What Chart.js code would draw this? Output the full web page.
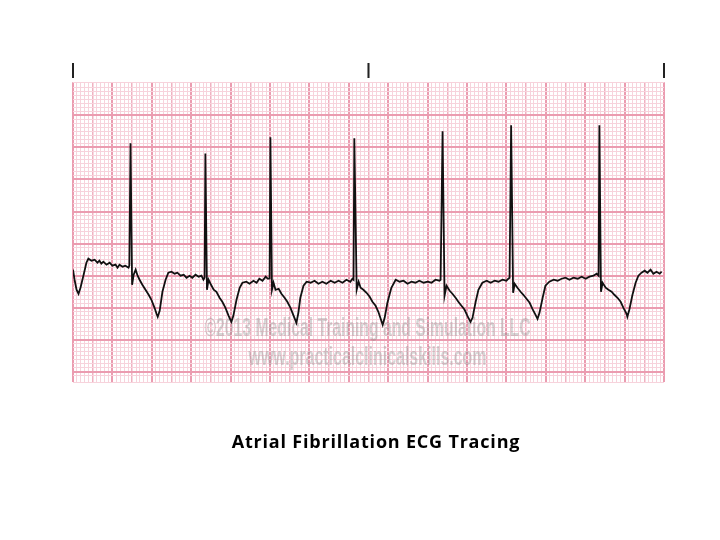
<!DOCTYPE html>
<html lang="en">
<head>
  <meta charset="UTF-8">
  <title>Atrial Fibrillation ECG Tracing</title>
  <script src="https://cdn.jsdelivr.net/npm/chart.js"></script>
  <style>
    body {
      margin: 0;
      background: #fff;
    }
    .wrap {
      position: relative;
      width: 720px;
      height: 540px;
    }
    .caption {
      position: absolute;
      left: 0;
      width: 752px;
      top: 431px;
      text-align: center;
      font-family: 'Open Sans', Lato, sans-serif;
      font-weight: bold;
      font-size: 18px;
      letter-spacing: 0.8px;
      line-height: 20px;
      color: #000;
    }
  </style>
</head>
<body>

<div class="wrap">
  <canvas id="ecgChart" width="720" height="540"></canvas>
  <div class="caption">Atrial Fibrillation ECG Tracing</div>
</div>

<script>
  // Data (paper units: 1 small box = 1 mm, 25 mm/s, 10 mm/mV)
  const traceX = [
    0, 0.4, 0.9, 1.4, 1.9, 2.7, 3.4, 3.9, 4.7, 5.5, 6.2, 6.7, 7.2, 7.7, 8.5, 9.3, 10.0, 10.8, 11.3, 11.8, 12.6, 13.3, 14.1,
    14.3, 14.6, 15.0, 15.4, 15.9, 16.4, 16.9, 17.6, 18.4, 19.2, 19.9, 20.7, 21.2, 21.5, 22.0, 22.7, 23.5, 24.2,
    25.0, 25.8, 26.5, 27.3, 28.1, 28.8, 29.6, 30.3, 31.1, 31.9, 32.6, 33.1,
    33.4, 33.6, 34.0, 34.4, 34.9, 35.7, 36.4, 37.2, 37.9, 38.7, 39.5, 40.2, 40.7, 41.5, 42.3, 43.0,
    44.0, 44.8, 45.8, 46.6, 47.3, 48.1, 48.9, 49.4,
    49.9, 50.1, 50.5, 50.9, 51.4, 52.2, 52.9, 53.7, 54.4, 55.2, 56.0, 56.7, 57.2, 57.7, 58.5, 59.3,
    60.3, 61.3, 62.3, 63.3, 64.3, 65.4, 66.4, 67.4, 68.4, 69.4, 70.4, 70.9,
    71.2, 71.4, 72.0, 72.5, 73.0, 73.7, 74.5, 75.3, 76.0, 76.8, 77.5, 78.0, 78.6, 79.1, 79.8, 80.8, 81.9,
    82.9, 83.9, 84.9, 85.9, 86.9, 87.9, 89.0, 90.0, 91.0, 92.0, 93.0,
    93.3, 93.8, 94.3, 94.8, 95.6, 96.3, 97.1, 97.8, 98.6, 99.4, 100.1, 100.9, 101.4, 102.2, 102.9, 103.9,
    105.0, 106.0, 107.0, 108.0, 109.0, 110.0, 110.5,
    110.8, 111.2, 111.7, 112.1, 112.8, 113.6, 114.3, 115.1, 115.9, 116.6, 117.4, 117.9, 118.4, 119.2, 119.9, 120.9,
    122.0, 123.0, 124.0, 125.0, 126.0, 127.0, 128.1, 129.1, 130.1, 131.1, 132.1, 132.9,
    133.4, 133.6, 134.0, 134.4, 135.2, 135.9, 136.7, 137.4, 138.2, 139.0, 139.7, 140.5, 140.7, 141.2, 142.0, 142.8,
    143.5, 144.3, 145.1, 145.8, 146.6, 147.3, 148.1, 148.9, 149.4
  ];
  const traceY = [
    25.5, 23, 20.5, 19.5, 21, 24.25, 27.25, 28.25, 27.75, 28, 27.25, 27.75, 27, 27.5, 26.75, 27.25, 26.5, 26.75, 26, 26.75, 26.25, 26.5, 26,
    26.5, 57, 21.75, 24.25, 25.5, 24, 23, 21.75, 20.5, 19.25, 18, 16, 14.5, 13.75, 15.25, 20, 23, 24.75,
    25, 24.5, 24.75, 24, 24.25, 23.5, 24, 23.5, 24.25, 23.75, 24, 23,
    23.5, 54.5, 20.5, 23, 22, 20.5, 20, 18.5, 17.5, 16, 14, 12.5, 14, 18, 21, 22.25,
    22.5, 22, 22.75, 22.25, 23.25, 22.75, 23.75, 23.25,
    23.25, 58.5, 20.5, 22.25, 20.5, 20.75, 19.5, 18.5, 17.5, 16, 14, 12.25, 14.75, 18.5, 21.5, 22.5,
    22.25, 22.75, 22, 22.5, 22, 22.75, 22.25, 22.75, 22.25, 23, 22.5, 23.25,
    23, 58.25, 20.5, 22.5, 21, 20.5, 19.75, 18.75, 17.5, 16.5, 15, 13.5, 11.75, 13.5, 17.25, 21, 23,
    22.5, 22.75, 22, 22.5, 22.25, 22.75, 22.25, 22.5, 22.25, 23, 22.75,
    23, 60, 19, 21.5, 20.25, 19.5, 18.5, 17.5, 16.5, 15.5, 14, 12.5, 13.5, 17.5, 20.5, 22.25,
    22.75, 22.25, 22.75, 22.5, 23, 22.75, 23.25,
    23.5, 61.5, 19.75, 22, 21, 20, 19.25, 18.25, 17.25, 15.75, 14.25, 13.25, 14.75, 18.5, 21.5, 22.5,
    23, 22.75, 23.25, 23.5, 23, 23.5, 23.25, 23.75, 23.25, 23.75, 24, 24.5,
    24, 61.5, 20, 22.25, 21, 20.5, 20, 19.25, 18.5, 17.5, 16, 14.5, 13.75, 15.5, 19.25, 22.25,
    24, 24.75, 25.25, 24.75, 25.5, 24.5, 25, 24.5, 25
  ];
  const secondMarks = [0, 75, 150];   // 3 s timing marks
  const watermark = ['\u00a92013 Medical Training and Simulation LLC', 'www.practicalclinicalskills.com'];

  // paper grid colours
  const gridColor = (v, every, mid) => {
    const r = Math.round(v * 100) / 100;
    if (r % every === 0) return '#eb9cb0';
    if (mid && r % mid === 0) return '#f0b2c1';
    return '#f7d3dc';
  };
  const gridWidth = (v, every, mid) => {
    const r = Math.round(v * 100) / 100;
    if (r % every === 0) return 2;
    if (mid && r % mid === 0) return 1.5;
    return 1;
  };

  const watermarkPlugin = {
    id: 'watermark',
    beforeDatasetsDraw(chart) {
      const {ctx, chartArea, scales} = chart;
      const cx = (chartArea.left + chartArea.right) / 2 - 1;
      const rows = [[9, 326], [1.75, 238]];
      ctx.save();
      ctx.fillStyle = 'rgba(125,125,125,0.32)';
      ctx.font = 'bold 25px "Liberation Sans", Arial, sans-serif';
      ctx.textAlign = 'center';
      ctx.textBaseline = 'alphabetic';
      watermark.forEach((text, i) => {
        const y = scales.y.getPixelForValue(rows[i][0]);
        const w = ctx.measureText(text).width;
        ctx.save();
        ctx.translate(cx, y);
        ctx.scale(rows[i][1] / w, 1);
        ctx.fillText(text, 0, 0);
        ctx.restore();
      });
      ctx.restore();
    }
  };

  const ctx = document.getElementById('ecgChart').getContext('2d');
  new Chart(ctx, {
    type: 'line',
    data: {
      datasets: [{
        label: 'Lead II',
        data: traceX.map((x, i) => ({x: x, y: traceY[i]})),
        borderColor: '#111',
        borderWidth: 1.8,
        pointRadius: 0,
        tension: 0,
        fill: false
      }]
    },
    options: {
      responsive: false,
      animation: false,
      layout: {
        padding: {left: 73, right: 56, top: 59, bottom: 158}
      },
      scales: {
        x: {
          type: 'linear',
          min: 0,
          max: 150,
          ticks: {display: false, stepSize: 1},
          border: {display: false},
          grid: {
            drawTicks: false,
            color: c => gridColor(c.tick.value, 10, 5),
            lineWidth: c => gridWidth(c.tick.value, 10, 5)
          }
        },
        x2: {
          type: 'linear',
          position: 'top',
          min: 0,
          max: 150,
          afterBuildTicks: scale => {
            scale.ticks = secondMarks.map(v => ({value: v}));
          },
          ticks: {
            callback: () => '|',
            color: '#222',
            padding: 2,
            maxRotation: 0,
            font: {family: '"Liberation Sans", Arial, sans-serif', size: 16, weight: 'bold'}
          },
          border: {display: false},
          grid: {display: false, drawTicks: false}
        },
        y: {
          min: -2.5,
          max: 72.25,
          ticks: {display: false, stepSize: 1},
          border: {display: false},
          grid: {
            drawTicks: false,
            color: c => gridColor(c.tick.value, 8, 0),
            lineWidth: c => gridWidth(c.tick.value, 8, 0)
          }
        }
      },
      plugins: {
        legend: {display: false},
        tooltip: {enabled: false}
      }
    },
    plugins: [watermarkPlugin]
  });
</script>

</body>
</html>
